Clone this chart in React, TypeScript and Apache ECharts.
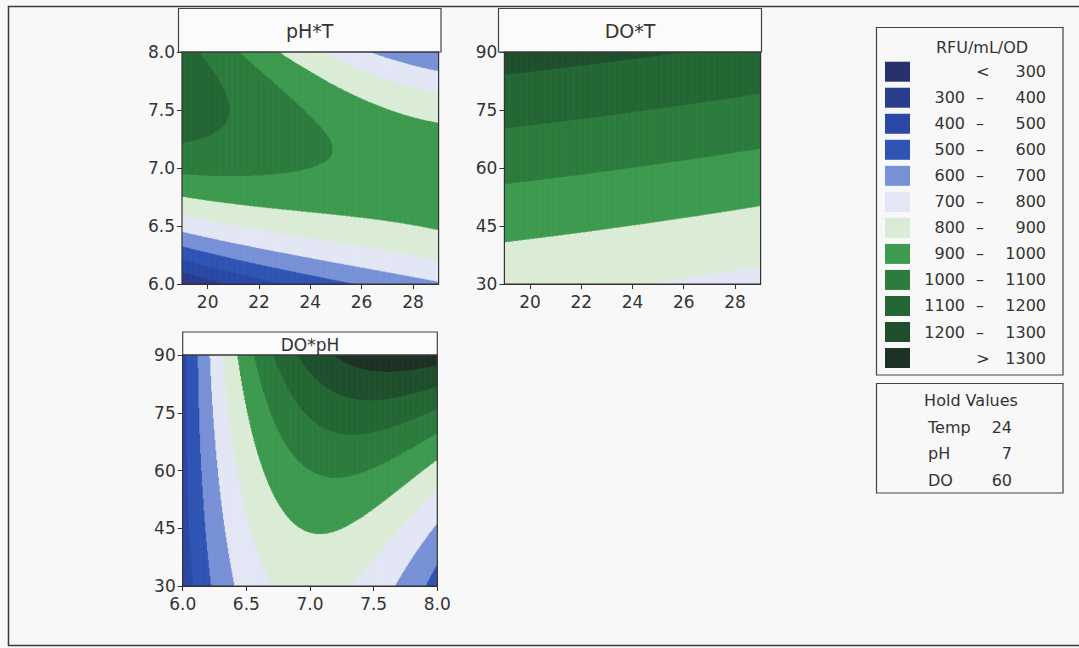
import React, { useEffect, useRef } from 'react';
import * as echarts from 'echarts';

// ---- contour levels and colours (RFU/mL/OD) ----
const LEVELS = [300, 400, 500, 600, 700, 800, 900, 1000, 1100, 1200, 1300];
const BAND_COLORS = [
  '#29306e', '#2a3c8c', '#2a48a6', '#2f54b4', '#7891d6', '#e3e6f4',
  '#dbecd6', '#3d9a4f', '#2c7c3d', '#246634', '#1f4f2c', '#1d3224',
];
const LEGEND_FROM = ['', '300', '400', '500', '600', '700', '800', '900', '1000', '1100', '1200', ''];
const LEGEND_SEP = ['<', '–', '–', '–', '–', '–', '–', '–', '–', '–', '–', '>'];
const LEGEND_TO = ['300', '400', '500', '600', '700', '800', '900', '1000', '1100', '1200', '1300', '1300'];

// ---- factors ----
const TEMP_RANGE = [19, 29];
const PH_RANGE = [6, 8];
const DO_RANGE = [30, 90];
const TEMP_TICKS = [20, 22, 24, 26, 28];
const PANEL_TITLES = ['pH*T', 'DO*T', 'DO*pH'];
const HOLD_NAMES = ['Temp', 'pH', 'DO'];
const HOLD_VALUES = [24, 7, 60];

// ---- fitted response-surface coefficients ----
// pH*T (DO held): peak(t) - curvature(t) * (p - centre(t))^2
const PHT_PEAK = [1016, -20, 2.16];
const PHT_CENTRE = [0.228, -0.077, 0.00348];
const PHT_CURV = [315, 2.5];
// DO*T (pH held): base(t) + slope(t) * d + quad * d^2
const DOT_BASE = [999, -6.26, -0.092];
const DOT_SLOPE = [6.83, -0.009];
const DOT_QUAD = [0.01];
// DO*pH (Temp held): base(p) + slope(p) * d + quad(p) * d^2
const DOPH_BASE = [999, 141.6, -336, 58.4];
const DOPH_SLOPE = [6.8, 6.4];
const DOPH_QUAD = [0.04, 0.06];

const FONT = '"DejaVu Sans", Verdana, sans-serif';
const INK = '#333333';

const poly = (c: number[], x: number) => c.reduceRight((acc, k) => acc * x + k, 0);

const respPhT = (T: number, pH: number) => {
  const t = T - HOLD_VALUES[0];
  const p = pH - HOLD_VALUES[1];
  const c = poly(PHT_CENTRE, t);
  return poly(PHT_PEAK, t) - poly(PHT_CURV, t) * (p - c) * (p - c);
};
const respDoT = (T: number, DO: number) => {
  const t = T - HOLD_VALUES[0];
  const d = DO - HOLD_VALUES[2];
  return poly(DOT_BASE, t) + poly(DOT_SLOPE, t) * d + poly(DOT_QUAD, t) * d * d;
};
const respDoPh = (pH: number, DO: number) => {
  const p = pH - HOLD_VALUES[1];
  const d = DO - HOLD_VALUES[2];
  return poly(DOPH_BASE, p) + poly(DOPH_SLOPE, p) * d + poly(DOPH_QUAD, p) * d * d;
};

const bandOf = (v: number) => LEVELS.filter((l) => v >= l).length;

function buildCells(f: (x: number, y: number) => number, xr: number[], yr: number[], nx: number, ny: number) {
  const out: number[][] = [];
  const dx = (xr[1] - xr[0]) / nx;
  const dy = (yr[1] - yr[0]) / ny;
  for (let i = 0; i < nx; i++) {
    const xa = xr[0] + i * dx;
    const xb = xa + dx;
    const xm = xa + dx / 2;
    let start = yr[0];
    let cur = bandOf(f(xm, yr[0] + dy / 2));
    for (let j = 1; j < ny; j++) {
      const b = bandOf(f(xm, yr[0] + (j + 0.5) * dy));
      if (b !== cur) {
        const yb = yr[0] + j * dy;
        out.push([xa, xb, start, yb, cur]);
        start = yb;
        cur = b;
      }
    }
    out.push([xa, xb, start, yr[1], cur]);
  }
  return out;
}

// pixel layout of the three panels
const GRIDS = [
  { left: 182, top: 52, width: 256.6, height: 232 },
  { left: 504.4, top: 52, width: 256.2, height: 232 },
  { left: 182.7, top: 355, width: 254.6, height: 231 },
];

export default function App() {
  const ref = useRef<HTMLDivElement>(null);

  useEffect(() => {
    document.body.style.margin = '0';
    if (!ref.current) return;
    const chart = echarts.init(ref.current, undefined, { renderer: 'svg' });

    const cells = [
      buildCells(respPhT, TEMP_RANGE, PH_RANGE, 300, 460),
      buildCells(respDoT, TEMP_RANGE, DO_RANGE, 300, 460),
      buildCells(respDoPh, PH_RANGE, DO_RANGE, 300, 460),
    ];

    const axisLine = { show: true, onZero: false, lineStyle: { color: INK, width: 1 } };
    const tick = { show: true, length: 5, lineStyle: { color: INK, width: 1 } };
    const label = { color: INK, fontSize: 17, fontFamily: FONT, margin: 7 };

    const tempAxis = (gi: number) => ({
      type: 'value', gridIndex: gi, min: TEMP_RANGE[0], max: TEMP_RANGE[1],
      axisLine, axisTick: { ...tick, customValues: TEMP_TICKS },
      axisLabel: { ...label, margin: 9, customValues: TEMP_TICKS },
      splitLine: { show: false },
    });
    const phAxisX = (gi: number) => ({
      type: 'value', gridIndex: gi, min: PH_RANGE[0], max: PH_RANGE[1], interval: 0.5,
      axisLine, axisTick: tick,
      axisLabel: { ...label, margin: 9, formatter: (v: number) => v.toFixed(1) },
      splitLine: { show: false },
    });
    const phAxisY = (gi: number) => ({
      type: 'value', gridIndex: gi, min: PH_RANGE[0], max: PH_RANGE[1], interval: 0.5,
      axisLine, axisTick: tick,
      axisLabel: { ...label, formatter: (v: number) => v.toFixed(1) },
      splitLine: { show: false },
    });
    const doAxisY = (gi: number) => ({
      type: 'value', gridIndex: gi, min: DO_RANGE[0], max: DO_RANGE[1], interval: 15,
      axisLine, axisTick: tick, axisLabel: label, splitLine: { show: false },
    });

    const renderItem = (_params: any, api: any) => {
      const a = api.coord([api.value(0), api.value(3)]);
      const b = api.coord([api.value(1), api.value(2)]);
      return {
        type: 'rect',
        shape: { x: a[0] - 0.35, y: a[1] - 0.35, width: b[0] - a[0] + 0.7, height: b[1] - a[1] + 0.7 },
        style: { fill: BAND_COLORS[api.value(4)] },
        silent: true,
      };
    };

    const graphic: any[] = [];
    // outer frame
    graphic.push({
      type: 'rect', z: 50, silent: true,
      shape: { x: 8.5, y: 6.5, width: 1100, height: 639 },
      style: { fill: 'none', stroke: '#3a3a3a', lineWidth: 1.5 },
    });
    // title boxes
    const titleBoxes = [
      { x: 178.5, y: 8.5, w: 262.5, h: 43.5, size: 19 },
      { x: 498.5, y: 8.5, w: 263, h: 43.5, size: 19 },
      { x: 182.7, y: 332, w: 254.6, h: 23, size: 17 },
    ];
    titleBoxes.forEach((b, i) => {
      graphic.push({
        type: 'rect', z: 20, silent: true,
        shape: { x: b.x, y: b.y, width: b.w, height: b.h },
        style: { fill: '#fbfbfb', stroke: '#444', lineWidth: 1.2 },
      });
      graphic.push({
        type: 'text', z: 21, silent: true,
        x: b.x + b.w / 2, y: b.y + b.h / 2 + 1,
        style: {
          text: PANEL_TITLES[i], fill: INK, fontSize: b.size, fontFamily: FONT,
          textAlign: 'center', textVerticalAlign: 'middle', align: 'center', verticalAlign: 'middle',
        },
      });
    });
    // plot frames
    GRIDS.forEach((g) => {
      graphic.push({
        type: 'rect', z: 30, silent: true,
        shape: { x: g.left, y: g.top, width: g.width, height: g.height },
        style: { fill: 'none', stroke: INK, lineWidth: 1.2 },
      });
    });
    // legend box
    graphic.push({
      type: 'rect', z: 20, silent: true,
      shape: { x: 876.5, y: 27.5, width: 186.5, height: 347.5 },
      style: { fill: 'none', stroke: '#444', lineWidth: 1.2 },
    });
    const txt = (text: string, x: number, y: number, align: string, size = 16) => ({
      type: 'text', z: 21, silent: true, x, y,
      style: {
        text, fill: INK, fontSize: size, fontFamily: FONT,
        textAlign: align, textVerticalAlign: 'middle', align, verticalAlign: 'middle',
      },
    });
    graphic.push(txt('RFU/mL/OD', 982, 47, 'center', 16));
    BAND_COLORS.forEach((c, i) => {
      const cy = 71.7 + i * 26.03;
      graphic.push({
        type: 'rect', z: 21, silent: true,
        shape: { x: 885, y: cy - 10, width: 25, height: 20 },
        style: { fill: c },
      });
      if (LEGEND_FROM[i]) graphic.push(txt(LEGEND_FROM[i], 965, cy, 'right'));
      graphic.push(txt(LEGEND_SEP[i], LEGEND_FROM[i] ? 980 : 983, cy, 'center'));
      graphic.push(txt(LEGEND_TO[i], 1046, cy, 'right'));
    });
    // hold values box
    graphic.push({
      type: 'rect', z: 20, silent: true,
      shape: { x: 876.5, y: 383.5, width: 186.5, height: 109.5 },
      style: { fill: 'none', stroke: '#444', lineWidth: 1.2 },
    });
    graphic.push(txt('Hold Values', 971, 400, 'center'));
    HOLD_NAMES.forEach((n, i) => {
      const cy = 427 + i * 26.5;
      graphic.push(txt(n, 928, cy, 'left'));
      graphic.push(txt(String(HOLD_VALUES[i]), 1012, cy, 'right'));
    });

    chart.setOption({
      animation: false,
      backgroundColor: '#f8f8f8',
      grid: GRIDS.map((g) => ({ ...g, containLabel: false, show: false })),
      xAxis: [tempAxis(0), tempAxis(1), phAxisX(2)],
      yAxis: [phAxisY(0), doAxisY(1), doAxisY(2)],
      series: cells.map((data, i) => ({
        type: 'custom', xAxisIndex: i, yAxisIndex: i, data,
        dimensions: ['x0', 'x1', 'y0', 'y1', 'band'],
        encode: { x: [0, 1], y: [2, 3] },
        clip: true, silent: true, renderItem,
      })),
      graphic,
    });

    return () => chart.dispose();
  }, []);

  return <div ref={ref} style={{ width: 1079, height: 648 }} />;
}
